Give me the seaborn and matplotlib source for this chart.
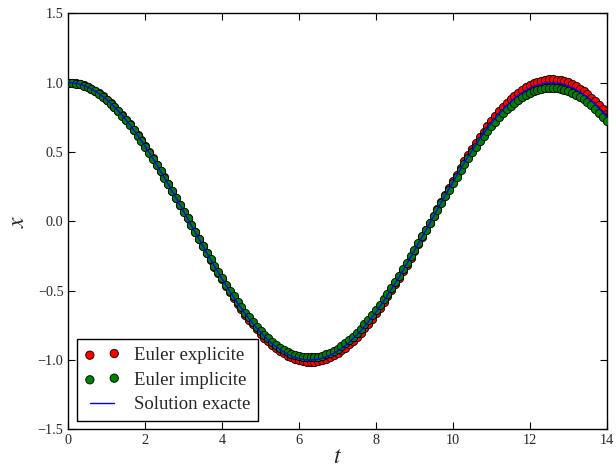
import numpy as np
import pandas as pd
import matplotlib
matplotlib.use("Agg")
import matplotlib.pyplot as plt
import seaborn as sns

# time grid (dt = 0.1)
t = np.round(np.arange(0, 141) * 0.1, 1)

exacte = [
    1.000, 0.999, 0.995, 0.989, 0.980, 0.969, 0.955, 0.939, 0.921, 0.900,
    0.878, 0.853, 0.825, 0.796, 0.765, 0.732, 0.697, 0.660, 0.622, 0.582,
    0.540, 0.498, 0.454, 0.408, 0.362, 0.315, 0.268, 0.219, 0.170, 0.121,
    0.071, 0.021, -0.029, -0.079, -0.129, -0.178, -0.227, -0.276, -0.323, -0.370,
    -0.416, -0.461, -0.505, -0.547, -0.589, -0.628, -0.666, -0.703, -0.737, -0.770,
    -0.801, -0.830, -0.857, -0.882, -0.904, -0.924, -0.942, -0.958, -0.971, -0.982,
    -0.990, -0.996, -0.999, -1.000, -0.998, -0.994, -0.987, -0.978, -0.967, -0.953,
    -0.936, -0.918, -0.897, -0.874, -0.848, -0.821, -0.791, -0.759, -0.726, -0.691,
    -0.654, -0.615, -0.575, -0.533, -0.490, -0.446, -0.401, -0.355, -0.307, -0.259,
    -0.211, -0.162, -0.112, -0.062, -0.012, 0.038, 0.087, 0.137, 0.187, 0.235,
    0.284, 0.331, 0.378, 0.424, 0.469, 0.512, 0.554, 0.595, 0.635, 0.673,
    0.709, 0.743, 0.776, 0.806, 0.835, 0.861, 0.886, 0.908, 0.928, 0.945,
    0.960, 0.973, 0.983, 0.991, 0.997, 0.999, 1.000, 0.998, 0.993, 0.986,
    0.977, 0.965, 0.950, 0.933, 0.915, 0.893, 0.870, 0.844, 0.816, 0.786,
    0.754,
]

explicite = [
    1.000, 0.999, 0.995, 0.989, 0.981, 0.970, 0.956, 0.941, 0.923, 0.902,
    0.879, 0.854, 0.827, 0.798, 0.767, 0.734, 0.699, 0.662, 0.624, 0.584,
    0.542, 0.500, 0.456, 0.410, 0.364, 0.317, 0.269, 0.220, 0.171, 0.121,
    0.071, 0.021, -0.029, -0.080, -0.130, -0.180, -0.229, -0.278, -0.326, -0.373,
    -0.419, -0.465, -0.509, -0.552, -0.594, -0.634, -0.672, -0.709, -0.744, -0.778,
    -0.809, -0.839, -0.866, -0.891, -0.914, -0.934, -0.953, -0.969, -0.982, -0.993,
    -1.002, -1.008, -1.012, -1.013, -1.011, -1.007, -1.001, -0.991, -0.980, -0.966,
    -0.950, -0.931, -0.910, -0.886, -0.861, -0.833, -0.803, -0.771, -0.737, -0.702,
    -0.664, -0.625, -0.584, -0.542, -0.498, -0.454, -0.408, -0.361, -0.313, -0.264,
    -0.215, -0.165, -0.114, -0.064, -0.013, 0.038, 0.089, 0.140, 0.190, 0.240,
    0.289, 0.338, 0.386, 0.432, 0.478, 0.523, 0.566, 0.608, 0.648, 0.687,
    0.724, 0.760, 0.793, 0.824, 0.854, 0.881, 0.906, 0.929, 0.950, 0.967,
    0.983, 0.996, 1.007, 1.016, 1.021, 1.024, 1.025, 1.023, 1.019, 1.012,
    1.002, 0.990, 0.975, 0.958, 0.939, 0.917, 0.893, 0.867, 0.838, 0.808,
    0.775,
]

implicite = [
    1.000, 0.998, 0.994, 0.988, 0.979, 0.968, 0.954, 0.938, 0.919, 0.898,
    0.875, 0.850, 0.823, 0.793, 0.762, 0.729, 0.694, 0.657, 0.618, 0.579,
    0.537, 0.495, 0.451, 0.406, 0.360, 0.313, 0.266, 0.217, 0.169, 0.120,
    0.070, 0.021, -0.029, -0.078, -0.128, -0.177, -0.225, -0.273, -0.320, -0.366,
    -0.411, -0.456, -0.499, -0.541, -0.581, -0.620, -0.658, -0.693, -0.727, -0.760,
    -0.790, -0.818, -0.844, -0.868, -0.890, -0.910, -0.927, -0.943, -0.955, -0.965,
    -0.973, -0.979, -0.982, -0.982, -0.980, -0.976, -0.969, -0.960, -0.948, -0.934,
    -0.918, -0.900, -0.879, -0.856, -0.831, -0.803, -0.774, -0.743, -0.710, -0.675,
    -0.639, -0.601, -0.562, -0.521, -0.479, -0.435, -0.391, -0.346, -0.300, -0.253,
    -0.205, -0.158, -0.109, -0.061, -0.012, 0.037, 0.085, 0.133, 0.181, 0.229,
    0.276, 0.322, 0.367, 0.412, 0.455, 0.497, 0.538, 0.577, 0.616, 0.652,
    0.687, 0.720, 0.751, 0.781, 0.808, 0.833, 0.857, 0.878, 0.897, 0.914,
    0.928, 0.940, 0.950, 0.957, 0.962, 0.964, 0.965, 0.962, 0.958, 0.951,
    0.941, 0.929, 0.915, 0.899, 0.880, 0.859, 0.836, 0.811, 0.784, 0.755,
    0.724,
]

df = pd.DataFrame({"t": t, "explicite": explicite, "implicite": implicite, "exacte": exacte})

sns.set_style("ticks")
plt.rcParams["font.family"] = ["Liberation Serif", "DejaVu Serif"]
plt.rcParams["mathtext.fontset"] = "stix"
plt.rcParams["xtick.direction"] = "in"
plt.rcParams["ytick.direction"] = "in"

fig = plt.figure(figsize=(6.16, 4.72), dpi=100)
ax = fig.add_axes([0.1109, 0.0905, 0.874, 0.881])

sns.scatterplot(data=df, x="t", y="explicite", color="red", edgecolor="black",
                s=36, linewidth=0.6, label="Euler explicite", ax=ax, zorder=2)
sns.scatterplot(data=df, x="t", y="implicite", color="green", edgecolor="black",
                s=36, linewidth=0.6, label="Euler implicite", ax=ax, zorder=3)
sns.lineplot(data=df, x="t", y="exacte", color="blue", linewidth=1,
             label="Solution exacte", ax=ax, zorder=4)

ax.set_xlim(0, 14)
ax.set_ylim(-1.5, 1.5)
ax.set_xticks(np.arange(0, 15, 2))
ax.set_yticks(np.arange(-1.5, 1.6, 0.5))
ax.tick_params(which="both", top=True, right=True, length=5, width=0.8,
               labelsize=10.3, color="black")
for s in ax.spines.values():
    s.set_color("black")
    s.set_linewidth(1)

ax.set_xlabel("$t$", fontsize=17, labelpad=0)
ax.set_ylabel("$x$", fontsize=17, labelpad=6)

leg = ax.legend(loc="lower left", scatterpoints=2, numpoints=2, fontsize=13.5,
                handlelength=1.9, handletextpad=0.75, labelspacing=0.4,
                borderpad=0.4, frameon=True, fancybox=False, framealpha=1,
                borderaxespad=0.45)
leg.get_frame().set_edgecolor("black")
leg.get_frame().set_linewidth(1)

fig.savefig("out.png", dpi=100)
